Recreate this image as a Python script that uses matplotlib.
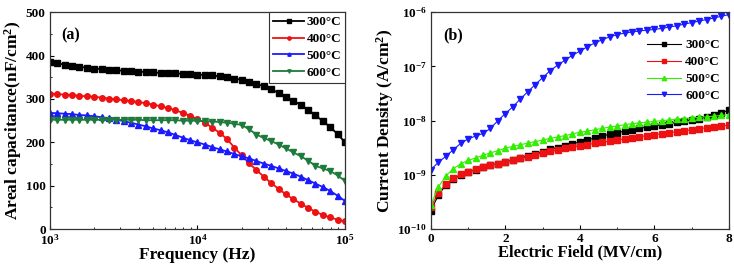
import numpy as np
import matplotlib
matplotlib.use("Agg")
import matplotlib.pyplot as plt

plt.rcParams['font.family'] = ['Liberation Serif', 'DejaVu Serif']
plt.rcParams['font.weight'] = 'bold'
plt.rcParams['axes.labelweight'] = 'bold'
plt.rcParams['mathtext.fontset'] = 'custom'
plt.rcParams['mathtext.rm'] = 'Liberation Serif:bold'
plt.rcParams['mathtext.it'] = 'Liberation Serif:bold'
plt.rcParams['mathtext.bf'] = 'Liberation Serif:bold'

labels = ['300°C', '400°C', '500°C', '600°C']

# (a) capacitance vs frequency, log10(f) from 3 to 5 in steps of 0.05
log_freq = np.linspace(3, 5, 41)
cap_300 = [385, 382, 379, 376, 374, 372, 370, 369, 367, 366, 365, 364, 363, 362, 361, 360, 359, 359, 358, 357,
           356, 355, 354, 352, 350, 347, 344, 340, 335, 329, 322, 314, 305, 296, 286, 275, 262, 249, 235, 219, 200]
cap_400 = [312, 311, 310, 309, 307, 306, 305, 303, 301, 299, 297, 295, 293, 290, 287, 283, 279, 274, 268, 261,
           254, 245, 234, 222, 208, 188, 170, 152, 136, 121, 106, 93, 80, 69, 59, 49, 40, 33, 27, 22, 18]
cap_500 = [268, 267, 266, 265, 263, 262, 260, 258, 255, 252, 249, 245, 241, 237, 232, 228, 223, 217, 211, 205,
           200, 195, 189, 184, 179, 173, 168, 163, 157, 151, 146, 140, 134, 128, 121, 113, 105, 97, 88, 77, 65]
cap_600 = [252, 252, 252, 252, 252, 252, 252, 252, 252, 252, 252, 252, 252, 251, 251, 251, 251, 251, 250, 250,
           250, 249, 248, 247, 245, 243, 240, 230, 218, 210, 203, 195, 186, 177, 168, 158, 146, 140, 134, 124, 111]

# (b) current density vs electric field, 0..8 MV/cm in steps of 0.2
field = np.linspace(0, 8, 41)
jd_300 = [2.2e-10, 4.2e-10, 6.5e-10, 8.3e-10, 1.0e-9, 1.12e-9, 1.25e-9, 1.38e-9, 1.5e-9, 1.62e-9,
          1.75e-9, 1.9e-9, 2.05e-9, 2.25e-9, 2.45e-9, 2.7e-9, 2.95e-9, 3.2e-9, 3.45e-9, 3.75e-9,
          4.05e-9, 4.4e-9, 4.8e-9, 5.2e-9, 5.6e-9, 6.0e-9, 6.4e-9, 6.8e-9, 7.2e-9, 7.6e-9,
          8.0e-9, 8.4e-9, 8.8e-9, 9.3e-9, 9.8e-9, 1.03e-8, 1.09e-8, 1.17e-8, 1.27e-8, 1.4e-8, 1.55e-8]
jd_400 = [2.6e-10, 4.6e-10, 6.8e-10, 8.6e-10, 1.02e-9, 1.14e-9, 1.26e-9, 1.38e-9, 1.5e-9, 1.62e-9,
          1.75e-9, 1.88e-9, 2.02e-9, 2.18e-9, 2.35e-9, 2.55e-9, 2.72e-9, 2.9e-9, 3.1e-9, 3.28e-9,
          3.45e-9, 3.62e-9, 3.8e-9, 4.0e-9, 4.2e-9, 4.4e-9, 4.6e-9, 4.8e-9, 5.05e-9, 5.3e-9,
          5.5e-9, 5.75e-9, 6.0e-9, 6.25e-9, 6.5e-9, 6.8e-9, 7.1e-9, 7.4e-9, 7.7e-9, 8.0e-9, 8.3e-9]
jd_500 = [2.8e-10, 6e-10, 9.5e-10, 1.3e-9, 1.6e-9, 1.85e-9, 2.05e-9, 2.3e-9, 2.55e-9, 2.8e-9,
          3.1e-9, 3.35e-9, 3.6e-9, 3.85e-9, 4.1e-9, 4.4e-9, 4.7e-9, 5.0e-9, 5.3e-9, 5.7e-9,
          6.1e-9, 6.4e-9, 6.8e-9, 7.2e-9, 7.6e-9, 8.0e-9, 8.4e-9, 8.8e-9, 9.1e-9, 9.4e-9,
          9.7e-9, 1.0e-8, 1.03e-8, 1.06e-8, 1.09e-8, 1.12e-8, 1.15e-8, 1.18e-8, 1.21e-8, 1.25e-8, 1.28e-8]
jd_600 = [1.25e-9, 1.7e-9, 2.2e-9, 2.9e-9, 3.8e-9, 4.6e-9, 5.2e-9, 5.8e-9, 7.2e-9, 1.0e-8,
          1.35e-8, 1.8e-8, 2.5e-8, 3.4e-8, 4.6e-8, 6.2e-8, 8.3e-8, 1.05e-7, 1.3e-7, 1.6e-7,
          1.9e-7, 2.3e-7, 2.7e-7, 3.1e-7, 3.5e-7, 3.85e-7, 4.1e-7, 4.3e-7, 4.5e-7, 4.65e-7,
          4.8e-7, 5.0e-7, 5.3e-7, 5.6e-7, 6.0e-7, 6.4e-7, 6.8e-7, 7.3e-7, 7.8e-7, 8.4e-7, 9.0e-7]

fig = plt.figure(figsize=(7.34, 2.69), dpi=100)
ax1 = fig.add_axes([0.068, 0.148, 0.402, 0.807])
ax2 = fig.add_axes([0.587, 0.148, 0.406, 0.807])

freq = 10 ** log_freq
colors_a = ['black', '#ee1111', '#1a1aff', '#1e7b3c']
markers_a = ['s', 'o', '^', 'v']
for ys, c, m, lab in zip([cap_300, cap_400, cap_500, cap_600], colors_a, markers_a, labels):
    ax1.plot(freq, ys, color=c, marker=m, markersize=4, linewidth=1.3, label=lab)
ax1.set_xscale('log')
ax1.set_xlim(1e3, 1e5)
ax1.set_ylim(0, 500)
ax1.set_yticks([0, 100, 200, 300, 400, 500])
ax1.xaxis.set_minor_formatter(matplotlib.ticker.NullFormatter())
ax1.set_xlabel('Frequency (Hz)', fontsize=12.5, labelpad=-1)
ax1.set_ylabel('Areal capacitance(nF/cm$^2$)', fontsize=12.5, labelpad=1)
ax1.text(0.04, 0.93, '(a)', transform=ax1.transAxes, fontsize=11.5, fontweight='bold', va='top')
leg1 = ax1.legend(loc='upper right', bbox_to_anchor=(1, 1), borderaxespad=0, fontsize=9.5,
                  handlelength=2.3, markerscale=0.6, fancybox=False, edgecolor='#333333',
                  labelspacing=0.35, handletextpad=0.2, borderpad=0.3, framealpha=1)
leg1.get_frame().set_linewidth(0.8)

colors_b = ['black', '#ee1111', '#33ee00', '#1a1aff']
markers_b = ['s', 's', '^', 'v']
for ys, c, m, lab in zip([jd_300, jd_400, jd_500, jd_600], colors_b, markers_b, labels):
    ax2.plot(field, ys, color=c, marker=m, markersize=4.5, linewidth=0.8, label=lab)
ax2.set_yscale('log')
ax2.set_xlim(0, 8)
ax2.set_ylim(1e-10, 1e-6)
ax2.set_xticks([0, 2, 4, 6, 8])
ax2.set_xticks([1, 3, 5, 7], minor=True)
ax2.yaxis.set_minor_locator(matplotlib.ticker.NullLocator())
ax2.set_xlabel('Electric Field (MV/cm)', fontsize=12, labelpad=-1)
ax2.set_ylabel('Current Density (A/cm$^2$)', fontsize=12.5, labelpad=1)
ax2.text(0.04, 0.93, '(b)', transform=ax2.transAxes, fontsize=11.5, fontweight='bold', va='top')
ax2.legend(loc='upper right', bbox_to_anchor=(1.01, 0.93), frameon=False, fontsize=9.5,
           handlelength=2.6, markerscale=0.7, labelspacing=0.35, handletextpad=0.3)

for ax in (ax1, ax2):
    ax.tick_params(which='both', direction='in', labelsize=9.5, pad=3)
    ax.tick_params(which='major', length=3)
    ax.tick_params(which='minor', length=1.5)
    for s in ax.spines.values():
        s.set_linewidth(0.9)
        s.set_color('#333333')
ax1.yaxis.set_minor_locator(matplotlib.ticker.MultipleLocator(50))

fig.savefig('out.png', dpi=100)
